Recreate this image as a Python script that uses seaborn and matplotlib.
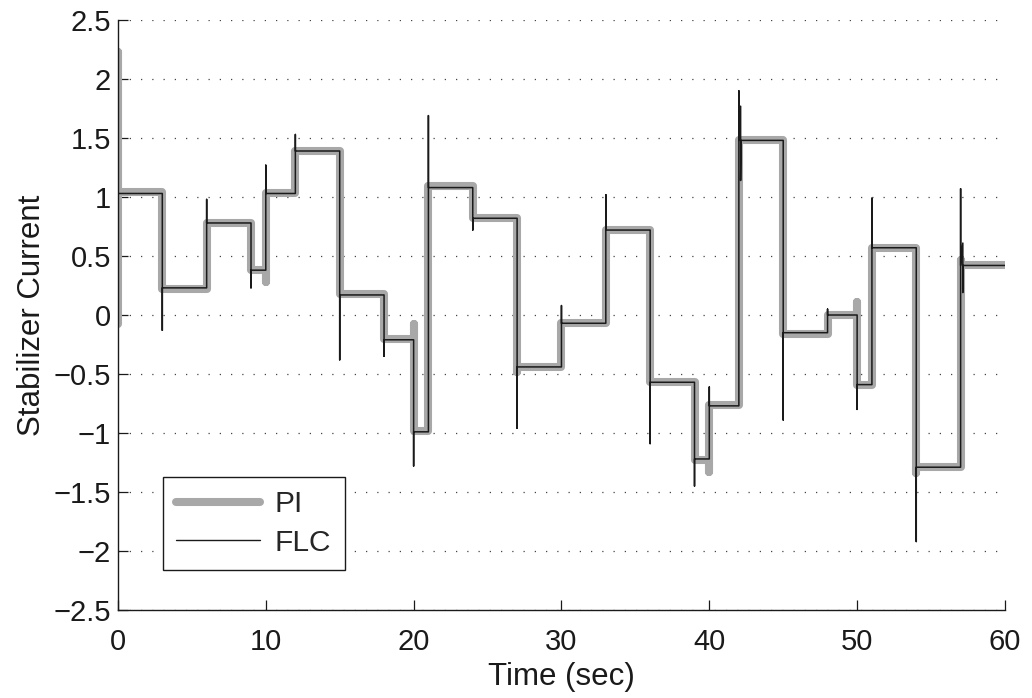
import numpy as np
import pandas as pd
import matplotlib
matplotlib.use("Agg")
import matplotlib.pyplot as plt
from matplotlib.lines import Line2D
from matplotlib.ticker import FixedLocator, FuncFormatter
import seaborn as sns

# Reference changes (sec) and the settled current of each interval
switch_times = [3, 6, 9, 10, 12, 15, 18, 20, 21, 24, 27, 30, 33, 36, 39, 40,
                42, 45, 48, 50, 51, 54, 57]
pi_levels = [1.04, 0.22, 0.78, 0.38, 1.03, 1.39, 0.18, -0.20, -0.98, 1.09,
             0.82, -0.44, -0.07, 0.72, -0.57, -1.23, -0.76, 1.48, -0.16, 0.00,
             -0.59, 0.57, -1.29, 0.42]
flc_levels = [1.03, 0.23, 0.78, 0.38, 1.03, 1.39, 0.17, -0.21, -0.99, 1.08,
              0.82, -0.44, -0.07, 0.72, -0.57, -1.22, -0.77, 1.48, -0.15, 0.00,
              -0.59, 0.57, -1.29, 0.42]
# Transient extremes at each switch
flc_peaks = [-0.13, 0.98, 0.23, 1.27, 1.53, -0.38, -0.35, -1.28, 1.69, 0.72,
             -0.96, 0.08, 1.02, -1.09, -1.45, -0.61, 1.90, -0.89, 0.05, -0.80,
             0.99, -1.92, 1.07]
pi_kicks = [np.nan, np.nan, np.nan, 0.28, np.nan, np.nan, np.nan, -0.08, np.nan,
            np.nan, -0.48, np.nan, np.nan, np.nan, np.nan, -1.33, np.nan, np.nan,
            np.nan, 0.11, np.nan, -1.34, 0.47]
# Second FLC transients shortly after a switch: (time, low, high)
flc_echo_t = [42.12, 57.15]
flc_echo_lo = [1.14, 0.19]
flc_echo_hi = [1.77, 0.61]
# Start-up transient of the PI controller
pi_start = [-0.08, 2.23]
t_end = 60


def build_pi():
    t, v = [0, 0], list(pi_start)
    t.append(0); v.append(pi_levels[0])
    for i, ts in enumerate(switch_times):
        t.append(ts); v.append(pi_levels[i])
        if not np.isnan(pi_kicks[i]):
            t.append(ts); v.append(pi_kicks[i])
        t.append(ts); v.append(pi_levels[i + 1])
    t.append(t_end); v.append(pi_levels[-1])
    return t, v


def build_flc():
    t, v = [0], [flc_levels[0]]
    echoes = dict(zip(flc_echo_t, zip(flc_echo_lo, flc_echo_hi)))
    for i, ts in enumerate(switch_times):
        t += [ts, ts, ts]
        v += [flc_levels[i], flc_peaks[i], flc_levels[i + 1]]
        for te, (lo, hi) in echoes.items():
            if ts < te < ts + 0.5:
                t += [te, te, te + 0.03]
                v += [hi, lo, flc_levels[i + 1]]
    t.append(t_end); v.append(flc_levels[-1])
    return t, v


pi_t, pi_v = build_pi()
flc_t, flc_v = build_flc()
df_pi = pd.DataFrame({"time": pi_t, "current": pi_v})
df_flc = pd.DataFrame({"time": flc_t, "current": flc_v})

sns.set_theme(style="white")
plt.rcParams["font.family"] = ["Liberation Sans", "DejaVu Sans"]
plt.rcParams["axes.unicode_minus"] = True

fig = plt.figure(figsize=(10.32, 6.98), dpi=100)
ax = fig.add_axes([0.1143, 0.1261, 0.8595, 0.8452])

pi_gray = "#a8a8a8"
ink = "#1a1a1a"
sns.lineplot(data=df_pi, x="time", y="current", estimator=None, sort=False,
             color=pi_gray, linewidth=5.8, ax=ax,
             solid_capstyle="round", solid_joinstyle="round")
sns.lineplot(data=df_flc, x="time", y="current", estimator=None, sort=False,
             color=ink, linewidth=1.1, ax=ax)

ax.set_xlim(0, 60)
ax.set_ylim(-2.5, 2.5)
ax.xaxis.set_major_locator(FixedLocator(np.arange(0, 61, 10)))
ax.yaxis.set_major_locator(FixedLocator(np.arange(-2.5, 2.51, 0.5)))
ax.yaxis.set_major_formatter(FuncFormatter(lambda y, _: f"{y:g}".replace("-", "\u2212")))

ax.yaxis.grid(True, linestyle=(0, (1, 8)), color="#444444", linewidth=0.9)
ax.xaxis.grid(False)
ax.set_axisbelow(True)

for side in ("top", "right"):
    ax.spines[side].set_visible(False)
for side in ("left", "bottom"):
    ax.spines[side].set_color(ink)
    ax.spines[side].set_linewidth(1.0)

ax.tick_params(axis="both", which="major", direction="in", length=7,
               width=0.9, color=ink, labelsize=21, labelcolor=ink,
               left=True, bottom=True)
ax.tick_params(axis="y", pad=5)
ax.tick_params(axis="x", pad=13)

ax.set_xlabel("Time (sec)", fontsize=22.5, color=ink, labelpad=4)
ax.set_ylabel("Stabilizer Current", fontsize=22.5, color=ink, labelpad=5)

handles = [Line2D([], [], color=pi_gray, linewidth=5.8),
           Line2D([], [], color=ink, linewidth=1.0)]
leg = ax.legend(handles, ["PI", "FLC"], loc="lower left",
                bbox_to_anchor=(0.0504, 0.0678), borderaxespad=0,
                fontsize=21.5, frameon=True, fancybox=False, framealpha=1,
                edgecolor=ink, handlelength=2.8, handletextpad=0.5,
                borderpad=0.45, labelspacing=0.35)
leg.get_frame().set_linewidth(1.0)

fig.savefig("out.png", dpi=100)
